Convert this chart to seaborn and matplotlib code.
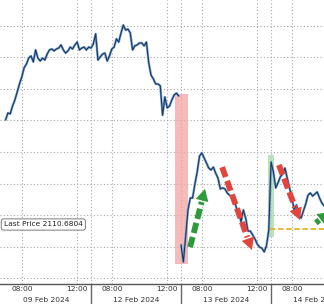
import numpy as np
import pandas as pd
import matplotlib
matplotlib.use("Agg")
import matplotlib.pyplot as plt
import matplotlib.transforms as mtransforms
from matplotlib.patches import Rectangle, Polygon
import seaborn as sns

# ---------------- data ----------------
days = ["09 Feb 2024", "12 Feb 2024", "13 Feb 2024", "14 Feb 2024"]
first_bar = ["06:50", "06:30", "06:30", "06:30"]   # time of first 10-minute bar shown
bar_minutes = 10
session_open = 6.5      # 06:30
session_len = 6.5       # hours per day on the compressed axis
breaks_before = ["13 Feb 2024"]   # line is not joined across this open

price_0209 = [2140.2, 2142.4, 2142.1, 2144.6, 2146.5, 2149.0, 2151.6, 2153.8, 2156.7,
              2157.9, 2159.8, 2160.5, 2158.6, 2162.4, 2159.8, 2158.9, 2159.8, 2159.2,
              2161.1, 2162.4, 2162.7, 2162.1, 2162.7, 2163.0, 2164.0, 2162.4, 2161.4,
              2162.1, 2163.3, 2162.7, 2164.0, 2164.9, 2162.4, 2163.0, 2163.3, 2162.4,
              2163.3]
price_0212 = [2163.0, 2164.3, 2167.5, 2159.2, 2160.2, 2161.1, 2161.4, 2158.9, 2160.5,
              2162.7, 2163.3, 2165.9, 2164.9, 2167.8, 2170.3, 2168.7, 2169.0, 2167.8,
              2162.4, 2163.7, 2164.0, 2164.6, 2164.6, 2163.7, 2164.9, 2158.3, 2154.4,
              2153.2, 2151.6, 2151.6, 2151.0, 2141.7, 2147.5, 2144.0, 2144.6, 2146.5,
              2148.1, 2148.7, 2147.8]
price_0213 = [2100.5, 2095.1, 2103.3, 2111.6, 2115.4, 2115.4, 2119.8, 2123.7, 2128.7,
              2129.7, 2128.1, 2126.5, 2124.9, 2124.3, 2125.2, 2123.3, 2121.7, 2118.3,
              2118.6, 2118.3, 2117.0, 2116.3, 2116.0, 2114.8, 2112.2, 2111.0, 2107.8,
              2111.6, 2109.0, 2104.9, 2104.9, 2103.7, 2102.4, 2100.8, 2099.8, 2099.5,
              2098.3, 2100.2, 2105.2]
price_0214 = [2126.8, 2123.7, 2118.6, 2120.2, 2122.1, 2123.0, 2124.9, 2121.7, 2118.6,
              2115.4, 2111.6, 2113.2, 2110.0, 2109.0, 2111.3, 2113.5, 2116.3, 2117.0,
              2116.0, 2116.7, 2117.3, 2115.4, 2113.8, 2112.9]
prices = [price_0209, price_0212, price_0213, price_0214]

last_price_label = "Last Price 2110.6804"
support_level = 2105.6
support_from = ("13 Feb 2024", "12:55")
grid_levels = [2090, 2100, 2110, 2120, 2130, 2140, 2150, 2160, 2170]
tick_times = ["08:00", "12:00"]
minor_times = ["10:00"]

# shaded spans: (start day, time), (end day, time), low, high, colour
spans = [
    (("12 Feb 2024", "12:34"), ("13 Feb 2024", "07:00"), 2094.4, 2148.4, "#f3a3a3"),
    (("13 Feb 2024", "12:47"), ("14 Feb 2024", "06:43"), 2103.0, 2129.0, "#a9d9a9"),
]
# trend arrows: (tail day, time, price), (tip day, time, price), colour
arrows = [
    (("13 Feb 2024", "07:09", 2099.8), ("13 Feb 2024", "08:14", 2118.3), "#2f9a3c"),
    (("13 Feb 2024", "09:28", 2125.2), ("13 Feb 2024", "11:37", 2098.9), "#e2453d"),
    (("14 Feb 2024", "07:04", 2125.9), ("14 Feb 2024", "08:35", 2108.4), "#e2453d"),
    (("14 Feb 2024", "09:44", 2107.5), ("14 Feb 2024", "10:45", 2111.0), "#2f9a3c"),
]


def hours(hhmm):
    h, m = hhmm.split(":")
    return int(h) + int(m) / 60.0


def pos(day, hhmm):
    """Position on the compressed (gap-free) session axis."""
    return days.index(day) * session_len + (hours(hhmm) - session_open)


rows = []
seg = 0
for i, (day, start, vals) in enumerate(zip(days, first_bar, prices)):
    if day in breaks_before:
        seg += 1
    for k, v in enumerate(vals):
        h = hours(start) + k * bar_minutes / 60.0
        rows.append({"t": i * session_len + h - session_open, "price": v, "segment": seg})
df = pd.DataFrame(rows)

# ---------------- figure ----------------
sns.set_style("white")
plt.rcParams["font.family"] = ["DejaVu Sans"]
W, H = 324, 304
fig = plt.figure(figsize=(W / 100, H / 100), dpi=100)
ax_h = 284 / H
ax = fig.add_axes([0, 1 - ax_h, 1, ax_h])

px_per_hour = 13.85
x0 = -1 / px_per_hour
XLIM = (x0, x0 + W / px_per_hour)
YLIM = (2088.1, 2178.25)

grid_kw = dict(color="#a8a8a8", lw=0.8, ls=(0, (1, 2)), zorder=0)
for g in grid_levels:
    ax.axhline(g, **grid_kw)
for i in range(len(days)):
    for tt in tick_times:
        ax.axvline(pos(days[i], tt), **grid_kw)
    if i > 0:
        ax.axvline(i * session_len, **grid_kw)

for (d0, t0), (d1, t1), lo, hi, c in spans:
    a = pos(d0, t0)
    b = pos(d1, t1)
    ax.add_patch(Rectangle((a, lo), b - a, hi - lo, facecolor=c, edgecolor="none",
                           alpha=0.75, zorder=1))

ax.plot([pos(*support_from), XLIM[1]], [support_level, support_level],
        color="#e3b428", lw=1.3, ls=(0, (3, 1.5)), zorder=2)

# price line: light-blue body with a dark core, as on the terminal chart
sns.lineplot(data=df, x="t", y="price", units="segment", estimator=None,
             color="#6e9fd6", lw=1.7, ax=ax, legend=False, zorder=3)
sns.lineplot(data=df, x="t", y="price", units="segment", estimator=None,
             color="#1f3552", lw=0.75, ax=ax, legend=False, zorder=3)

trans = mtransforms.blended_transform_factory(ax.transData, ax.transAxes)
for i, d in enumerate(days):
    ax.text(i * session_len + session_len / 2, -16 / 284, d, transform=trans,
            ha="center", va="center", fontsize=5.4, color="#333333", clip_on=False)
    if i > 0:
        ax.plot([i * session_len, i * session_len], [0, -20 / 284], transform=trans,
                color="#666666", lw=1.0, clip_on=False, scalex=False, scaley=False)

ax.set_xlim(*XLIM)
ax.set_ylim(*YLIM)

# dashed trend arrows (geometry computed in pixel space)
fig.canvas.draw()
inv = ax.transData.inverted()
for (dt, tt, pt), (dh, th, ph), c in arrows:
    p0 = ax.transData.transform((pos(dt, tt), pt))
    p1 = ax.transData.transform((pos(dh, th), ph))
    d = p1 - p0
    L = np.hypot(*d)
    u = d / L
    n = np.array([-u[1], u[0]])
    head_len, head_w = 12.0, 6.5
    base = p1 - u * (head_len + 1.5)
    b_d = inv.transform(base)
    t_d = inv.transform(p0)
    ax.plot([t_d[0], b_d[0]], [t_d[1], b_d[1]], color=c, lw=4.2,
            ls=(0, (1.8, 0.7)), solid_capstyle="butt", dash_capstyle="butt", zorder=4,
            scalex=False, scaley=False)
    hb = p1 - u * head_len
    tri = [inv.transform(p1), inv.transform(hb + n * head_w), inv.transform(hb - n * head_w)]
    ax.add_patch(Polygon(tri, closed=True, facecolor=c, edgecolor="none", zorder=4))

# axes styling
for s in ["left", "right", "top"]:
    ax.spines[s].set_visible(False)
ax.spines["bottom"].set_color("#555555")
ax.spines["bottom"].set_linewidth(1.0)
ax.set_yticks([])
ax.set_xlabel("")
ax.set_ylabel("")

major = [pos(d, tt) for d in days for tt in tick_times]
labels = [tt for d in days for tt in tick_times]
ax.set_xticks(major)
ax.set_xticklabels(labels)
ax.set_xticks([pos(d, tt) for d in days for tt in minor_times], minor=True)
ax.tick_params(axis="x", which="major", length=2, width=0.6, color="#777777",
               pad=1.5, labelsize=5.4, labelcolor="#333333", direction="in")
ax.tick_params(axis="x", which="minor", length=2, width=0.6, color="#999999", direction="in")

ax.text(0.012, 1 - 224.5 / 284, last_price_label, transform=ax.transAxes,
        ha="left", va="center", fontsize=5.4, color="#222222", zorder=6,
        bbox=dict(boxstyle="round,pad=0.35,rounding_size=0.3", facecolor="white",
                  edgecolor="#7a7a7a", lw=0.7))

ax.set_xlim(*XLIM)
ax.set_ylim(*YLIM)
fig.savefig("out.png", dpi=100)
